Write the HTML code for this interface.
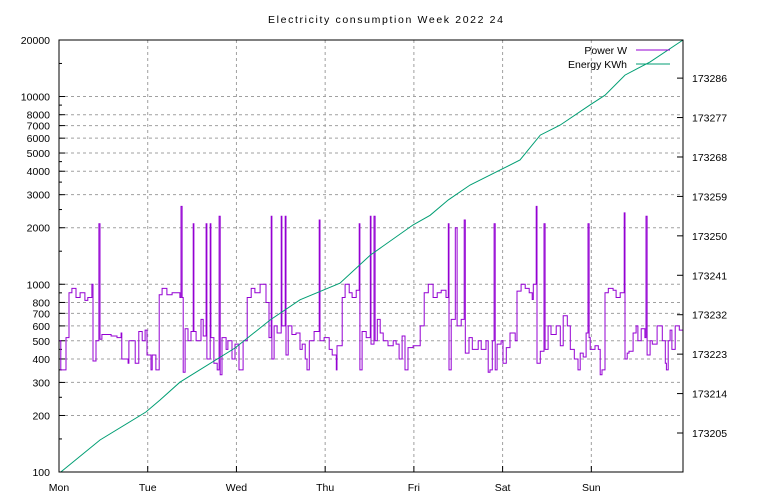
<!DOCTYPE html>
<html><head><meta charset="utf-8"><style>
body{margin:0;background:#fff}
svg{display:block;font-family:"Liberation Sans",sans-serif;font-size:10.5px}
</style></head><body>
<svg id="chart" width="768" height="500">
<text x="268" y="23" textLength="235" lengthAdjust="spacing">Electricity consumption Week 2022 24</text>
<g id="grid"></g><g id="axes"></g><g id="series"></g>
<rect x="59" y="40" width="624" height="432" fill="none" stroke="#000" stroke-width="1"/>
<g>
<text x="627" y="54" text-anchor="end">Power W</text>
<line x1="636" y1="50" x2="670" y2="50" stroke="#9400d3"/>
<text x="627" y="68" text-anchor="end">Energy KWh</text>
<line x1="636" y1="64" x2="670" y2="64" stroke="#009e73"/>
</g>
</svg>
<script>
const dayLabels=["Mon","Tue","Wed","Thu","Fri","Sat","Sun"];
const leftTicks=[100,200,300,400,500,600,700,800,1000,2000,3000,4000,5000,6000,7000,8000,10000,20000];
const rightTicks=[173205,173214,173223,173232,173241,173250,173259,173268,173277,173286];
const powerHours=[0,0.3,0.5,1.9,2.7,3.5,4.6,5.7,7.0,7.8,8.9,9.2,10.0,10.8,11.1,11.6,14.1,15.7,16.8,17.0,18.7,18.9,20.6,21.6,22.5,23.3,23.8,24.9,25.2,26.2,27.1,27.9,29.2,30.6,32.7,33.0,33.3,33.6,34.1,34.9,35.7,36.3,36.5,37.1,38.4,39.0,39.8,40.0,40.9,41.1,41.9,42.8,43.3,43.6,44.1,45.2,45.7,46.8,47.6,48.7,49.8,50.9,52.0,53.0,54.4,56.0,56.8,57.4,57.6,58.2,59.0,60.1,60.3,61.2,61.4,62.0,63.0,64.1,65.2,65.8,66.6,67.1,67.7,69.0,70.4,70.6,71.7,73.1,73.9,75.0,75.2,76.6,77.4,78.5,79.3,80.4,81.2,81.4,82.0,83.1,84.2,84.4,85.2,85.5,86.1,86.9,87.7,89.0,90.4,91.2,92.0,92.8,93.6,94.4,95.8,97.7,98.8,99.9,101.2,102.3,103.4,104.7,105.3,105.5,106.1,107.2,107.7,108.8,109.6,109.9,110.9,111.8,113.4,114.2,115.0,115.5,116.1,116.6,117.2,117.7,118.0,118.5,119.6,120.1,121.0,122.0,123.4,123.9,125.0,126.1,127.2,128.0,128.3,129.1,129.3,130.2,131.2,131.5,132.3,133.1,134.5,135.6,136.4,137.5,138.3,139.4,140.4,141.0,141.8,142.6,143.1,143.4,143.7,145.0,145.9,146.4,146.9,147.7,148.6,149.9,150.7,151.8,152.9,153.1,153.7,154.2,155.3,156.1,156.6,157.5,158.5,158.8,159.1,159.9,160.5,161.8,163.2,164.0,164.3,164.8,165.3,165.8,166.7,167.8];
const powerWatts=[500,500,350,520,900,950,850,900,820,850,1000,390,500,2100,510,540,530,520,550,400,380,500,380,560,500,570,420,350,420,350,880,950,880,900,850,2600,850,340,580,500,560,2100,560,500,650,530,2100,400,2100,520,380,350,2300,330,520,450,500,400,480,350,500,850,950,900,1000,800,520,2300,400,600,550,2300,600,2300,420,600,540,550,450,480,400,350,500,560,2200,500,520,450,420,350,470,850,1000,900,850,930,2100,350,560,520,2300,480,2300,500,650,550,500,470,500,480,400,530,350,460,470,600,900,1000,850,900,930,850,2100,350,650,2000,600,650,2200,430,520,450,500,450,450,500,340,350,500,2100,350,480,500,380,460,550,500,920,1000,950,900,830,1000,2600,380,440,2100,450,600,540,600,470,680,600,450,400,350,430,410,550,2100,520,450,470,450,330,350,900,950,930,850,900,2400,400,430,440,550,600,500,580,520,2300,420,500,480,600,500,380,350,500,570,450,600,570];
const energyHours=[0.5,11.1,23.5,27.3,32.7,47.6,57.1,65.2,76.0,84.2,95.8,100.4,105.3,111.2,119.3,124.7,130.2,135.6,143.7,147.7,153.1,159.9,168.8];
const energyKWh=[173196.1,173203.4,173209.8,173212.5,173216.6,173224.4,173230.8,173235.4,173239.2,173245.6,173252.5,173254.7,173258.2,173261.6,173265.0,173267.3,173273.0,173275.3,173279.9,173282.1,173286.7,173289.7,173294.7];

const L=59,R=683,T=40,B=472,XMAX=168.8;
const NS="http://www.w3.org/2000/svg";
const xs=h=>L+h/XMAX*(R-L);
const yl=v=>B-(Math.log10(v)-2)/Math.log10(200)*(B-T);
const RMIN=173196.1,RMAX=173294.7;
const yr=v=>B-(v-RMIN)/(RMAX-RMIN)*(B-T);
function mk(tag,attrs,parent,text){const e=document.createElementNS(NS,tag);for(const k in attrs)e.setAttribute(k,attrs[k]);if(text!==undefined)e.textContent=text;parent.appendChild(e);return e;}
const grid=document.getElementById('grid'),axes=document.getElementById('axes'),series=document.getElementById('series');
leftTicks.forEach(v=>{const y=yl(v);
 const g=mk('line',{x1:L,x2:R,y1:y,y2:y,stroke:'#a0a0a0','stroke-dasharray':'3,3'},grid);
 
 
 const t=mk('text',{x:L-9,y:y+4,'text-anchor':'end'},axes,String(v));
 
 
 mk('line',{x1:L,x2:L+6,y1:y,y2:y,stroke:'#000'},axes);
});
[150,250,350,450,900,1500,2500,3500,4500,9000,15000].forEach(v=>{const y=yl(v);mk('line',{x1:L,x2:L+3,y1:y,y2:y,stroke:'#000'},axes);});
rightTicks.forEach(v=>{const y=yr(v);
 const t=mk('text',{x:R+9,y:y+4},axes,String(v));
 
 
 mk('line',{x1:R-6,x2:R,y1:y,y2:y,stroke:'#000'},axes);
});
dayLabels.forEach((d,i)=>{const x=xs(i*24);
 if(i>0){const g=mk('line',{x1:x,x2:x,y1:T,y2:B,stroke:'#a0a0a0','stroke-dasharray':'3,3'},grid);
 
 }
 mk('line',{x1:x,x2:x,y1:B,y2:B-6,stroke:'#000'},axes);
 const t=mk('text',{x:x,y:B+19,'text-anchor':'middle'},axes,d);
 
 
});
let pts=[];
for(let i=0;i<powerHours.length;i++){const x=xs(powerHours[i]),y=yl(powerWatts[i]);
 if(i>0)pts.push(x.toFixed(1)+','+yl(powerWatts[i-1]).toFixed(1));
 pts.push(x.toFixed(1)+','+y.toFixed(1));}
pts.push(R+','+yl(powerWatts[powerWatts.length-1]).toFixed(1));
const p=mk('polyline',{points:pts.join(' '),fill:'none',stroke:'#9400d3','stroke-width':1},series);


const ep=energyHours.map((h,i)=>xs(h).toFixed(1)+','+yr(energyKWh[i]).toFixed(1)).join(' ');
const e=mk('polyline',{points:ep,fill:'none',stroke:'#009e73','stroke-width':1},series);


</script>
</body></html>
